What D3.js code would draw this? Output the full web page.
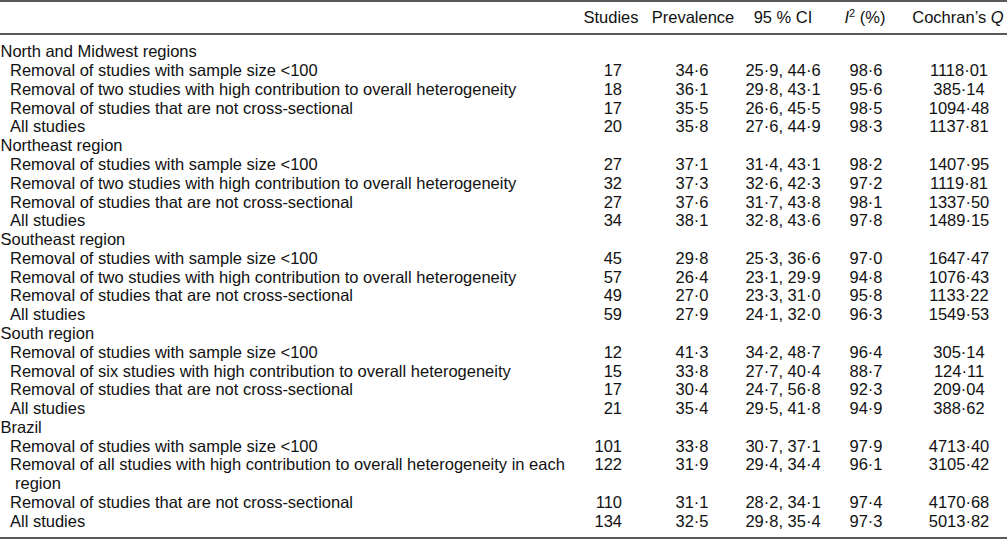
<!DOCTYPE html>
<html><head><meta charset="utf-8">
<script src="https://cdn.jsdelivr.net/npm/d3@7"></script>
<style>
body{margin:0;background:#fff;}
svg{display:block;font-family:"Liberation Sans",Arial,Helvetica,sans-serif;font-size:16.5px;fill:#111;}
</style></head><body>
<script>
// ---- data ----
const regions = ["North and Midwest regions","Northeast region","Southeast region","South region","Brazil"];
const analyses = [
  ["Removal of studies with sample size <100","Removal of two studies with high contribution to overall heterogeneity","Removal of studies that are not cross-sectional","All studies"],
  ["Removal of studies with sample size <100","Removal of two studies with high contribution to overall heterogeneity","Removal of studies that are not cross-sectional","All studies"],
  ["Removal of studies with sample size <100","Removal of two studies with high contribution to overall heterogeneity","Removal of studies that are not cross-sectional","All studies"],
  ["Removal of studies with sample size <100","Removal of six studies with high contribution to overall heterogeneity","Removal of studies that are not cross-sectional","All studies"],
  ["Removal of studies with sample size <100","Removal of all studies with high contribution to overall heterogeneity in each|region","Removal of studies that are not cross-sectional","All studies"]
];
const studies = [[17,18,17,20],[27,32,27,34],[45,57,49,59],[12,15,17,21],[101,122,110,134]];
const prevalence = [[34.6,36.1,35.5,35.8],[37.1,37.3,37.6,38.1],[29.8,26.4,27.0,27.9],[41.3,33.8,30.4,35.4],[33.8,31.9,31.1,32.5]];
const ciLow = [[25.9,29.8,26.6,27.6],[31.4,32.6,31.7,32.8],[25.3,23.1,23.3,24.1],[34.2,27.7,24.7,29.5],[30.7,29.4,28.2,29.8]];
const ciHigh = [[44.6,43.1,45.5,44.9],[43.1,42.3,43.8,43.6],[36.6,29.9,31.0,32.0],[48.7,40.4,56.8,41.8],[37.1,34.4,34.1,35.4]];
const i2 = [[98.6,95.6,98.5,98.3],[98.2,97.2,98.1,97.8],[97.0,94.8,95.8,96.3],[96.4,88.7,92.3,94.9],[97.9,96.1,97.4,97.3]];
const cochranQ = [[1118.01,385.14,1094.48,1137.81],[1407.95,1119.81,1337.50,1489.15],[1647.47,1076.43,1133.22,1549.53],[305.14,124.11,209.04,388.62],[4713.40,3105.42,4170.68,5013.82]];
const columns = ["Studies","Prevalence","95 % CI","I2","Cochran's Q"];

// ---- layout ----
const W = 1007, H = 541;
const svg = d3.select("body").append("svg").attr("width", W).attr("height", H);
const fmt = (v, d) => v.toFixed(d).replace(".", "\u00B7");

const lines = [];
regions.forEach((r, gi) => {
  lines.push({type: "group", text: r});
  analyses[gi].forEach((a, ai) => {
    const parts = a.split("|");
    lines.push({type: "row", text: parts[0], g: gi, a: ai});
    if (parts[1]) lines.push({type: "wrap", text: parts[1]});
  });
});

const y = d3.scaleLinear().domain([0, lines.length - 1]).range([51.5, 521]);
const colX = d3.scaleOrdinal().domain(columns).range([622, 692, 783, 866, 959]);
const colAnchor = d3.scaleOrdinal().domain(columns).range(["end","middle","middle","middle","middle"]);
const headerX = d3.scaleOrdinal().domain(columns).range([611, 693, 783, 865, 958]);
const base = 5.8;

// rules
const rules = [1, 34, 538];
svg.selectAll("line.rule").data(rules).join("line").attr("class","rule")
  .attr("x1", 0).attr("x2", W).attr("y1", d => d).attr("y2", d => d)
  .attr("stroke", "#222").attr("stroke-width", 1.4);

// header
const hy = 17.5 + base;
const hdr = svg.append("g");
columns.forEach(c => {
  const t = hdr.append("text").attr("x", headerX(c)).attr("y", hy).attr("text-anchor", "middle");
  if (c === "I2") {
    t.append("tspan").attr("font-style", "italic").text("I");
    t.append("tspan").attr("font-size", "11px").attr("dy", -6).text("2");
    t.append("tspan").attr("dy", 6).text(" (%)");
  } else if (c === "Cochran's Q") {
    t.append("tspan").text("Cochran\u2019s ");
    t.append("tspan").attr("font-style", "italic").text("Q");
  } else t.text(c);
});

// label column
svg.selectAll("text.lab").data(lines).join("text").attr("class","lab")
  .attr("x", d => d.type === "group" ? 0.5 : d.type === "row" ? 10 : 15)
  .attr("y", (d, i) => y(i) + base)
  .text(d => d.text);

// value columns
const rowLines = lines.map((d, i) => Object.assign({i}, d)).filter(d => d.type === "row");
const cellText = (c, d) => {
  const g = d.g, a = d.a;
  if (c === "Studies") return String(studies[g][a]);
  if (c === "Prevalence") return fmt(prevalence[g][a], 1);
  if (c === "95 % CI") return fmt(ciLow[g][a], 1) + ", " + fmt(ciHigh[g][a], 1);
  if (c === "I2") return fmt(i2[g][a], 1);
  return fmt(cochranQ[g][a], 2);
};
columns.forEach(c => {
  svg.append("g").selectAll("text").data(rowLines).join("text")
    .attr("x", colX(c)).attr("y", d => y(d.i) + base)
    .attr("text-anchor", colAnchor(c))
    .text(d => cellText(c, d));
});
</script></body></html>
